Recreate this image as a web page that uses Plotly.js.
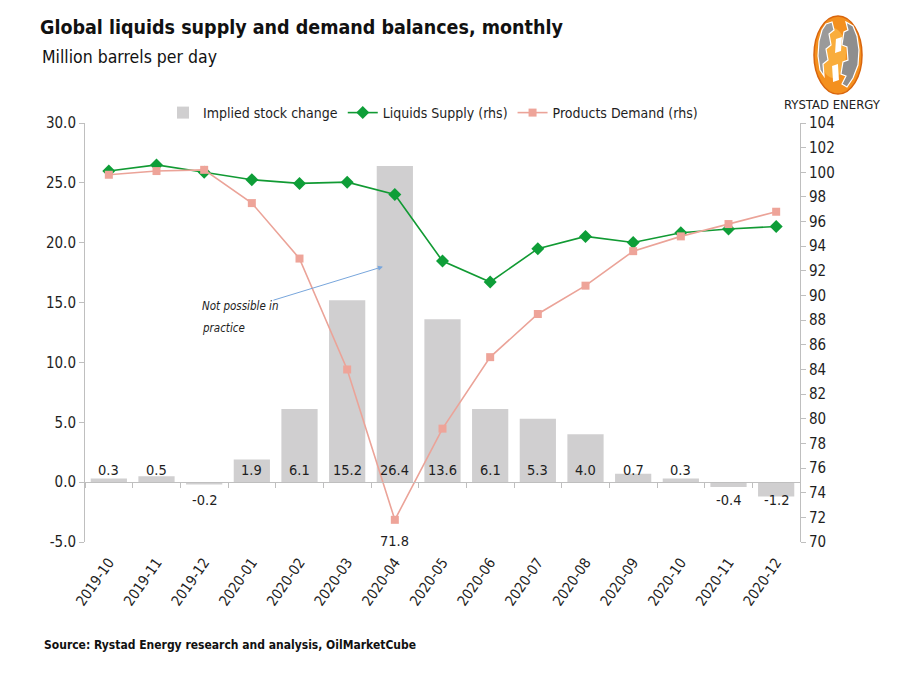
<!DOCTYPE html>
<html>
<head>
<meta charset="utf-8">
<script src="https://cdn.plot.ly/plotly-3.0.1.min.js"></script>
<style>
  html, body { margin: 0; padding: 0; background: #fff; }
  #chart { width: 900px; height: 700px; }
</style>
</head>
<body>
<div id="chart"></div>
<script>
// Monthly global liquids balance, million barrels per day
const months = ['2019-10', '2019-11', '2019-12', '2020-01', '2020-02', '2020-03', '2020-04',
                '2020-05', '2020-06', '2020-07', '2020-08', '2020-09', '2020-10', '2020-11', '2020-12'];
const stockChange = [0.3, 0.5, -0.2, 1.9, 6.1, 15.2, 26.4, 13.6, 6.1, 5.3, 4.0, 0.7, 0.3, -0.4, -1.2];
const liquidsSupply = [100.1, 100.6, 100.0, 99.4, 99.1, 99.2, 98.2, 92.8, 91.1, 93.8, 94.8, 94.3, 95.1, 95.4, 95.6];
const productsDemand = [99.8, 100.1, 100.2, 97.5, 93.0, 84.0, 71.8, 79.2, 85.0, 88.5, 90.8, 93.6, 94.8, 95.8, 96.8];
const leftTicks = [-5, 0, 5, 10, 15, 20, 25, 30];

const FONT = '"DejaVu Sans Condensed", "DejaVu Sans", sans-serif';
const TXT = '#1e1e1e';
const AXIS = '#bfbfbf';

// plot area in pixels
const L = 85, R = 800, T = 123, B = 542;
const px = x => (x - L) / (R - L);
const py = y => (B - y) / (B - T);

const yMin = -5, yMax = 30;

const bars = {
  type: 'bar', name: 'Implied stock change',
  x: months, y: stockChange,
  marker: { color: '#d0cfd0' },
  width: 0.76,
  hoverinfo: 'x+y'
};

const supply = {
  type: 'scatter', mode: 'lines+markers', name: 'Liquids Supply (rhs)',
  x: months, y: liquidsSupply, yaxis: 'y2',
  line: { color: '#119a33', width: 1.6 },
  marker: { symbol: 'diamond', size: 10, color: '#0e9e38' }
};

const demand = {
  type: 'scatter', mode: 'lines+markers', name: 'Products Demand (rhs)',
  x: months, y: productsDemand, yaxis: 'y2',
  line: { color: '#eba398', width: 1.6 },
  marker: { symbol: 'square', size: 8, color: '#eea499' }
};

// carrier for the zero-line axis with boundary ticks
const zeroAxis = {
  type: 'scatter', mode: 'none', showlegend: false, hoverinfo: 'skip',
  x: months, y: months.map(() => 0), xaxis: 'x2'
};

// value labels for the bars, sitting on either side of the zero line
const barLabelAnns = stockChange.map((v, i) => ({
  xref: 'x', yref: 'y', x: months[i], y: 0,
  text: v.toFixed(1), showarrow: false,
  xanchor: 'center', yanchor: 'middle',
  yshift: v >= 0 ? 12 : -18,
  font: { family: FONT, size: 14.5, color: TXT }
}));

// value label under the demand low point
const minIdx = productsDemand.indexOf(Math.min(...productsDemand));
const demandLowAnn = {
  xref: 'x', yref: 'y2', x: months[minIdx], y: productsDemand[minIdx],
  text: productsDemand[minIdx].toFixed(1), showarrow: false,
  xanchor: 'center', yanchor: 'middle', yshift: -21,
  font: { family: FONT, size: 14.5, color: TXT }
};

// Rystad Energy logo drawn as shapes
function poly(pts) {
  return 'M' + pts.map(p => px(p[0]).toFixed(4) + ',' + py(p[1]).toFixed(4)).join(' L') + ' Z';
}
const logoShapes = [
  { type: 'circle', xref: 'paper', yref: 'paper',
    x0: px(814), x1: px(862), y0: py(94), y1: py(16),
    fillcolor: '#f4901e', line: { color: '#d9650c', width: 1.5 } },
  { type: 'circle', xref: 'paper', yref: 'paper',
    x0: px(820), x1: px(846), y0: py(78), y1: py(28),
    fillcolor: '#f9ad3c', line: { width: 0 } },
  { type: 'path', xref: 'paper', yref: 'paper',
    path: poly([[846, 22], [853, 26], [857, 36], [859, 50], [858, 65], [853, 78], [847, 87], [842, 84], [846, 76], [841, 74], [843, 62], [848, 60], [847, 47], [842, 45], [844, 32], [848, 30]]),
    fillcolor: '#8e8e8e', line: { color: '#ffffff', width: 1.2 } },
  { type: 'path', xref: 'paper', yref: 'paper',
    path: poly([[826, 24], [832, 22], [834, 30], [829, 34], [831, 45], [826, 49], [828, 60], [823, 64], [824, 76], [820, 70], [818, 56], [819, 41], [822, 30]]),
    fillcolor: '#9a9a9a', line: { color: '#ffffff', width: 1.2 } },
  { type: 'path', xref: 'paper', yref: 'paper',
    path: poly([[836, 39], [842, 37], [841, 51], [835, 53]]),
    fillcolor: '#ffffff', line: { width: 0 } },
  { type: 'path', xref: 'paper', yref: 'paper',
    path: poly([[832, 66], [838, 64], [839, 80], [833, 82]]),
    fillcolor: '#ffffff', line: { width: 0 } }
];

const layout = {
  width: 900, height: 700,
  margin: { l: L, r: 900 - R, t: T, b: 700 - B, pad: 0 },
  paper_bgcolor: '#ffffff', plot_bgcolor: '#ffffff',
  font: { family: FONT, size: 14, color: TXT },
  showlegend: true,
  title: {
    text: '<b>Global liquids supply and demand balances, monthly</b>',
    font: { family: FONT, size: 19.5, color: '#111' },
    x: 40 / 900, xanchor: 'left', xref: 'container',
    y: 1 - 27 / 700, yanchor: 'middle', yref: 'container'
  },
  legend: {
    orientation: 'h', x: px(163), xanchor: 'left', y: py(113), yanchor: 'middle',
    font: { family: FONT, size: 14, color: TXT },
    bgcolor: 'rgba(0,0,0,0)', itemclick: false, itemdoubleclick: false
  },
  xaxis: {
    type: 'category', range: [-0.5, 14.5],
    showline: false, ticks: '', showgrid: false, zeroline: false,
    tickangle: -55, tickfont: { family: FONT, size: 14.5, color: TXT },
    ticklabelstandoff: 8
  },
  xaxis2: {
    type: 'category', matches: 'x', overlaying: 'x', anchor: 'free',
    position: (0 - yMin) / (yMax - yMin),
    showticklabels: false, showgrid: false, zeroline: false,
    showline: true, linecolor: AXIS, linewidth: 1,
    ticks: 'outside', tickson: 'boundaries', ticklen: 5, tickcolor: AXIS, tickwidth: 1
  },
  yaxis: {
    range: [yMin, yMax],
    tickvals: leftTicks, ticktext: leftTicks.map(v => v.toFixed(1)),
    showgrid: false, zeroline: false,
    showline: true, linecolor: AXIS, linewidth: 1,
    ticks: 'outside', ticklen: 5, tickcolor: AXIS,
    tickfont: { family: FONT, size: 15, color: TXT }
  },
  yaxis2: {
    range: [70, 104], dtick: 2, tick0: 70,
    overlaying: 'y', side: 'right',
    showgrid: false, zeroline: false,
    showline: true, linecolor: AXIS, linewidth: 1,
    ticks: 'outside', ticklen: 5, tickcolor: AXIS,
    tickfont: { family: FONT, size: 15, color: TXT }
  },
  shapes: logoShapes,
  annotations: [
    { xref: 'paper', yref: 'paper', x: px(40), y: py(57), xanchor: 'left', yanchor: 'middle',
      text: 'Million barrels per day', showarrow: false,
      font: { family: FONT, size: 17.5, color: '#111' } },
    { xref: 'paper', yref: 'paper', x: px(42), y: py(645), xanchor: 'left', yanchor: 'middle',
      text: '<b>Source: Rystad Energy research and analysis, OilMarketCube</b>', showarrow: false,
      font: { family: FONT, size: 12, color: '#111' } },
    { xref: 'paper', yref: 'paper', x: px(832), y: py(104), xanchor: 'center', yanchor: 'middle',
      text: 'RYSTAD ENERGY', showarrow: false,
      font: { family: FONT, size: 13, color: '#222' } },
    { xref: 'paper', yref: 'paper', x: px(200), y: py(306), xanchor: 'left', yanchor: 'middle',
      text: '<i>Not possible in</i>', showarrow: false,
      font: { family: FONT, size: 11.5, color: '#222' } },
    { xref: 'paper', yref: 'paper', x: px(200), y: py(328), xanchor: 'left', yanchor: 'middle',
      text: '<i>practice</i>', showarrow: false,
      font: { family: FONT, size: 11.5, color: '#222' } },
    { xref: 'x', yref: 'y', x: 5.75, y: 18, text: '',
      showarrow: true, arrowhead: 2, arrowsize: 1, arrowwidth: 1, arrowcolor: '#78a6dc',
      axref: 'pixel', ayref: 'pixel', ax: -111, ay: 34 }
  ].concat(barLabelAnns, [demandLowAnn])
};

Plotly.newPlot('chart', [bars, supply, demand, zeroAxis], layout,
  { displayModeBar: false, staticPlot: true });
</script>
</body>
</html>
